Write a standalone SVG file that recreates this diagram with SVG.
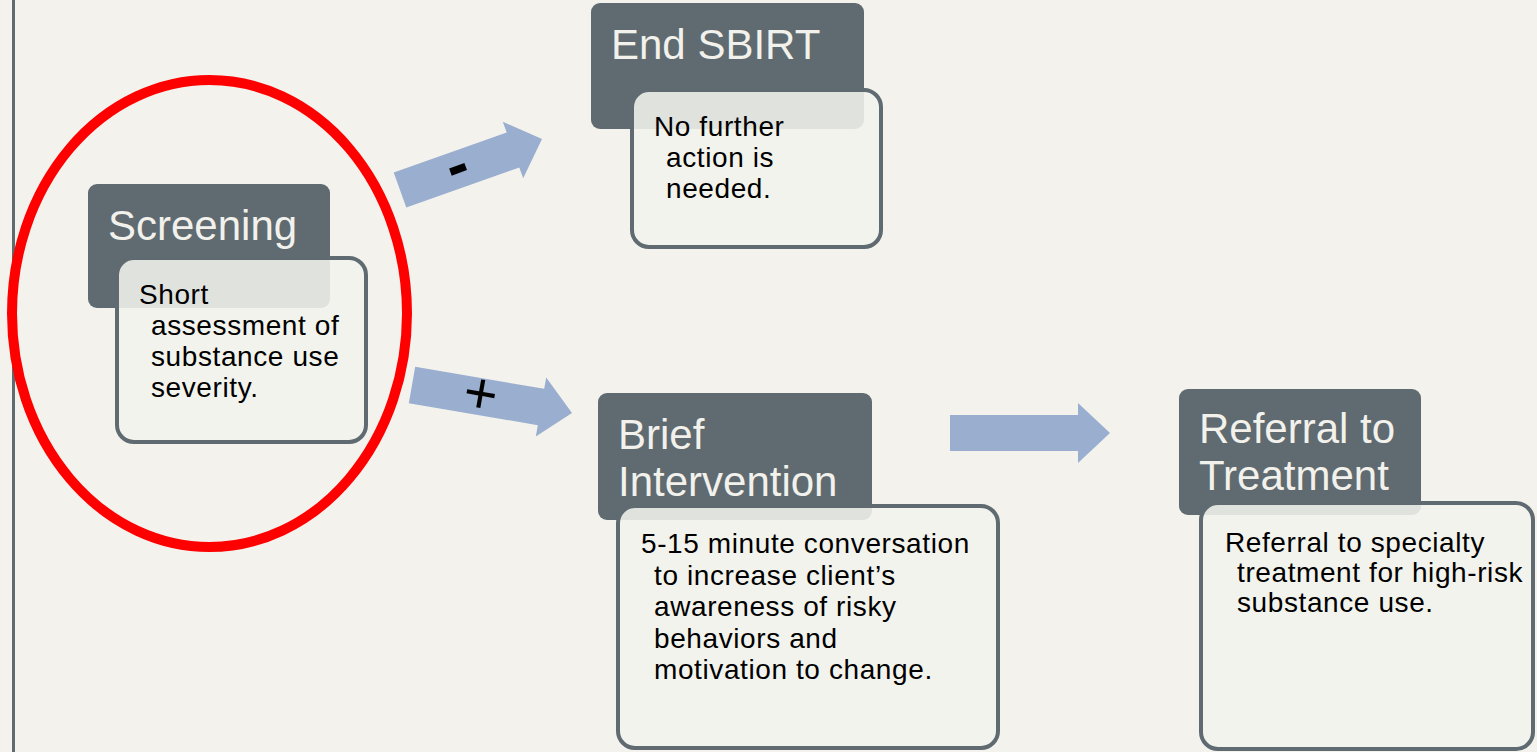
<svg xmlns="http://www.w3.org/2000/svg" width="1537" height="752" viewBox="0 0 1537 752">
  <style>
    .hdr { fill: #5f6b70; }
    .body { fill: #f3f2ed; fill-opacity: 0.88; stroke: #5f6b70; stroke-width: 4; }
    .title { font-family: "Liberation Sans", Arial, sans-serif; font-size: 42px; fill: #f2f1ec; }
    .txt { font-family: "Liberation Sans", Arial, sans-serif; font-size: 28px; fill: #000; letter-spacing: 0.6px; }
    .arrow { fill: #9aaed0; }
    .sign { font-family: "Liberation Sans", Arial, sans-serif; fill: #000; text-anchor: middle; }
  </style>

  <!-- page background and left rule -->
  <rect x="0" y="0" width="1537" height="752" fill="#f3f2ed"/>
  <line x1="13.5" y1="0" x2="13.5" y2="752" stroke="#5f6b70" stroke-width="3"/>

  <!-- connectors -->
  <g id="connectors">
    <polygon class="arrow" points="393.7,172.6 506.7,132.6 502.8,121.8 542,139 523.2,178.2 519.3,167.4 406.3,207.4"/>
    <text class="sign" font-size="64" font-weight="bold" x="458" y="186" transform="rotate(-20 458 169)">-</text>
    <polygon class="arrow" points="415.2,366.8 544.2,388.8 546.2,377.5 572,413 535.8,436.6 537.8,425.2 408.8,403.2"/>
    <text class="sign" font-size="58" x="481" y="413" transform="rotate(10 481 393)">+</text>
    <polygon class="arrow" points="950,415 1078,415 1078,403 1110,433 1078,463 1078,451 950,451"/>
  </g>

  <!-- Screening -->
  <g id="screening">
    <rect class="hdr" x="88" y="184" width="242" height="124" rx="9"/>
    <text class="title" x="108" y="240">Screening</text>
    <rect class="body" x="117" y="258" width="249" height="184" rx="17"/>
    <text class="txt">
      <tspan x="139" y="304">Short</tspan>
      <tspan x="151" y="335">assessment of</tspan>
      <tspan x="151" y="366">substance use</tspan>
      <tspan x="151" y="397">severity.</tspan>
    </text>
  </g>

  <!-- highlight around the screening step -->
  <ellipse id="highlight" cx="209.5" cy="313.5" rx="197.5" ry="233.5" fill="none" stroke="#ff0000" stroke-width="10"/>

  <!-- End SBIRT -->
  <g id="end-sbirt">
    <rect class="hdr" x="591" y="3" width="273" height="126" rx="9"/>
    <text class="title" x="611" y="59">End SBIRT</text>
    <rect class="body" x="632" y="90" width="249" height="157" rx="17"/>
    <text class="txt">
      <tspan x="654" y="136">No further</tspan>
      <tspan x="666" y="167">action is</tspan>
      <tspan x="666" y="198">needed.</tspan>
    </text>
  </g>

  <!-- Brief Intervention -->
  <g id="brief-intervention">
    <rect class="hdr" x="598" y="393" width="274" height="127" rx="9"/>
    <text class="title">
      <tspan x="618" y="449">Brief</tspan>
      <tspan x="618" y="496">Intervention</tspan>
    </text>
    <rect class="body" x="618" y="506" width="380" height="242" rx="17"/>
    <text class="txt">
      <tspan x="641" y="553">5-15 minute conversation</tspan>
      <tspan x="654" y="585">to increase client’s</tspan>
      <tspan x="654" y="616">awareness of risky</tspan>
      <tspan x="654" y="648">behaviors and</tspan>
      <tspan x="654" y="679">motivation to change.</tspan>
    </text>
  </g>

  <!-- Referral to Treatment -->
  <g id="referral">
    <rect class="hdr" x="1179" y="389" width="242" height="126" rx="9"/>
    <text class="title">
      <tspan x="1199" y="443">Referral to</tspan>
      <tspan x="1199" y="490">Treatment</tspan>
    </text>
    <rect class="body" x="1201" y="503" width="332" height="246" rx="17"/>
    <text class="txt">
      <tspan x="1225" y="552">Referral to specialty</tspan>
      <tspan x="1237" y="582">treatment for high-risk</tspan>
      <tspan x="1237" y="612">substance use.</tspan>
    </text>
  </g>
</svg>
